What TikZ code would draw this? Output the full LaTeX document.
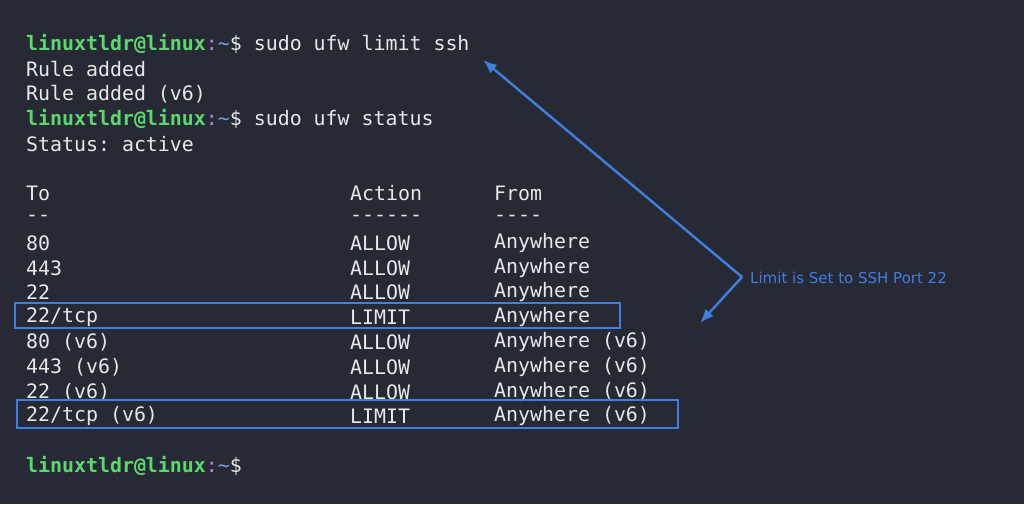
\documentclass[tikz,border=0pt]{standalone}
\usepackage{fontspec}
\setmonofont{DejaVu Sans Mono}
\setsansfont{DejaVu Sans}
\usetikzlibrary{arrows.meta}
\definecolor{bg}{HTML}{272935}
\definecolor{fg}{HTML}{E8E8E8}
\definecolor{grn}{HTML}{5BD96E}
\definecolor{prp}{HTML}{B67FE0}
\definecolor{tl}{HTML}{6FA0E8}
\definecolor{acc}{HTML}{3F7FE0}
\newcommand{\prompt}{\textcolor{grn}{\bfseries linuxtldr@linux}\textcolor{prp}{:}\textcolor{tl}{\char`\~}\$}
\begin{document}
\begin{tikzpicture}[x=1pt,y=-1pt,
  t/.style={anchor=west,inner sep=0pt,text=fg,font=\ttfamily\fontsize{19.9}{22}\selectfont},
  hl/.style={draw=acc,line width=1.2pt},
  arr/.style={draw=acc,line width=2.4pt,-{Latex[length=14pt,width=11pt]}}]
\fill[bg] (0,0) rectangle (1024,504);
\useasboundingbox (0,0) rectangle (1024,504);
\begin{scope}[yshift=-2pt]
\node[t] (l1) at (26,42) {\prompt\ sudo ufw limit ssh};
\node[t] (l2) at (26,67) {Rule added};
\node[t] (l3) at (26,92) {Rule added (v6)};
\node[t] (l4) at (26,117) {\prompt\ sudo ufw status};
\node[t] (l5) at (26,142) {Status: active};
\foreach \y/\a/\b/\c [count=\i] in {191/To/Action/From, 216/--/------/----, 241/80/ALLOW/Anywhere, 266/443/ALLOW/Anywhere, 290/22/ALLOW/Anywhere, 315/{22/tcp}/LIMIT/Anywhere, 340/80 (v6)/ALLOW/Anywhere (v6), 365/443 (v6)/ALLOW/Anywhere (v6), 390/22 (v6)/ALLOW/Anywhere (v6), 414/{22/tcp (v6)}/LIMIT/Anywhere (v6)}{
  \node[t] (a\i) at (26,\y) {\a};
  \node[t] (b\i) at (350,\y) {\b};
  \node[t] (c\i) at (494,\y) {\c};
}
\node[t] (l6) at (26,464) {\prompt};
\end{scope}
\node[hl,minimum width=605pt,minimum height=25pt,inner sep=0pt] (box1) at (317.5,315.5) {};
\node[hl,minimum width=661pt,minimum height=28pt,inner sep=0pt] (box2) at (347.5,414) {};
\coordinate (v) at (742,277);
\coordinate (t1) at (483,60);
\coordinate (t2) at (700,323);
\node[anchor=west,inner sep=0pt,text=acc,font=\sffamily\fontsize{15}{18}\selectfont] (lab) at (750,278) {Limit is Set to SSH Port 22};
\draw[arr] (v) -- (t1);
\draw[arr] (v) -- (t2);
\end{tikzpicture}
\end{document}
